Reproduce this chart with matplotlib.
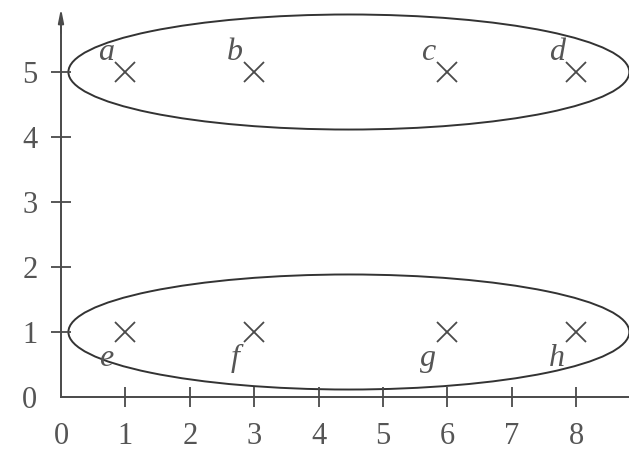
import matplotlib
matplotlib.use("Agg")
import matplotlib.pyplot as plt
from matplotlib.patches import Ellipse

# data
labels = ["a", "b", "c", "d", "e", "f", "g", "h"]
xs = [1, 3, 6, 8, 1, 3, 6, 8]
ys = [5, 5, 5, 5, 1, 1, 1, 1]
# cluster ellipses: (center x, center y, width, height)
clusters = [(4.47, 5.0, 8.71, 1.77), (4.47, 1.0, 8.71, 1.77)]
xticks = [0, 1, 2, 3, 4, 5, 6, 7, 8]
yticks = [0, 1, 2, 3, 4, 5]

ink = "#4a4a4a"
plt.rcParams["font.family"] = ["Liberation Serif", "DejaVu Serif"]

fig = plt.figure(figsize=(6.29, 4.54), dpi=100)
ax = fig.add_axes([0, 0, 1, 1])
ax.set_xlim(-0.947, 8.82)
ax.set_ylim(-0.877, 6.108)

for s in ["top", "right"]:
    ax.spines[s].set_visible(False)
ax.spines["left"].set_position(("data", 0))
ax.spines["bottom"].set_position(("data", 0))
ax.spines["left"].set_bounds(0, 5.9)
ax.spines["bottom"].set_bounds(0, 8.82)
for s in ["left", "bottom"]:
    ax.spines[s].set_color(ink)
    ax.spines[s].set_linewidth(1.4)

ax.annotate("", xy=(0, 5.98), xytext=(0, 5.6),
            arrowprops=dict(arrowstyle="-|>,head_length=0.8,head_width=0.16",
                            color=ink, lw=1.4, shrinkA=0, shrinkB=0))

ax.set_xticks(xticks)
ax.set_yticks(yticks)
ax.tick_params(direction="inout", length=14, width=1.3, color=ink,
               labelsize=22, labelcolor="#555555")
ax.tick_params(axis="x", pad=11)
ax.tick_params(axis="y", pad=10)
ax.xaxis.get_major_ticks()[0].tick1line.set_visible(False)
ax.yaxis.get_major_ticks()[0].tick1line.set_visible(False)

for cx, cy, w, h in clusters:
    ax.add_patch(Ellipse((cx, cy), w, h, fill=False, edgecolor="#333333", lw=1.4))

ax.plot(xs, ys, linestyle="none", marker="x", markersize=15,
        markeredgewidth=1.3, color="#4a4a4a")

for lab, x, y in zip(labels, xs, ys):
    dy = 14 if y > 3 else -19
    ax.annotate(lab, (x, y), xytext=(-14, dy), textcoords="offset points",
                ha="center", va="center", fontsize=23, style="italic",
                color="#555555")

fig.savefig("out.png", dpi=100, facecolor="white")
